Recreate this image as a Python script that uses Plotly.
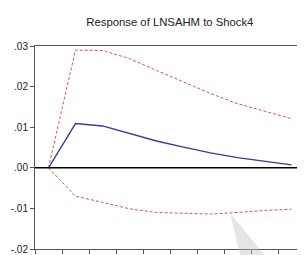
import plotly.graph_objects as go

periods = [1, 2, 3, 4, 5, 6, 7, 8, 9, 10]
response = [0.0, 0.0109, 0.0103, 0.0085, 0.0066, 0.0051, 0.0037, 0.0025, 0.0016, 0.0007]
upper = [0.0, 0.0290, 0.0289, 0.0269, 0.0240, 0.0211, 0.0183, 0.0158, 0.0139, 0.0121]
lower = [0.0, -0.0070, -0.0085, -0.0101, -0.0110, -0.0112, -0.0114, -0.0110, -0.0105, -0.0102]
ytick_vals = [-0.02, -0.01, 0.0, 0.01, 0.02, 0.03]
ytick_text = ["-.02", "-.01", ".00", ".01", ".02", ".03"]
xtick_vals = [0.5 + i for i in range(11)]
title = "Response of LNSAHM to Shock4"

fig = go.Figure()
fig.add_trace(go.Scatter(x=periods, y=upper, mode="lines",
                         line=dict(color="#cc5a5a", width=1, dash="3px,2px"), showlegend=False))
fig.add_trace(go.Scatter(x=periods, y=lower, mode="lines",
                         line=dict(color="#cc5a5a", width=1, dash="3px,2px"), showlegend=False))
fig.add_trace(go.Scatter(x=periods, y=response, mode="lines",
                         line=dict(color="#3a3a9a", width=1.3), showlegend=False))

fig.add_hline(y=0, line=dict(color="black", width=1.4))

fig.add_shape(type="path", xref="paper", yref="paper",
              path="M 0.722 0.177 L 0.76 -0.03 L 0.85 -0.03 Z",
              fillcolor="rgba(190,190,190,0.4)", line=dict(width=0), layer="above")

fig.update_layout(
    width=297, height=247,
    margin=dict(l=27, r=0, t=38, b=6),
    paper_bgcolor="white", plot_bgcolor="white",
    title=dict(text=title, x=0.545, xanchor="center", y=0.943, yanchor="middle",
               font=dict(family="Liberation Sans", size=11.3, color="#222")),
    xaxis=dict(range=[0.5, 10.5], tickmode="array", tickvals=xtick_vals, ticktext=[""] * 11,
               ticks="outside", ticklen=4, tickcolor="#555", showgrid=False, zeroline=False,
               showline=True, linecolor="#555", linewidth=1, mirror=True),
    yaxis=dict(range=[-0.02, 0.03], tickmode="array", tickvals=ytick_vals, ticktext=ytick_text,
               ticks="outside", ticklen=4, tickcolor="#555", showgrid=False, zeroline=False,
               showline=True, linecolor="#555", linewidth=1, mirror=True,
               tickfont=dict(family="Liberation Sans", size=10, color="#222")),
)

fig.write_html("out.html")
